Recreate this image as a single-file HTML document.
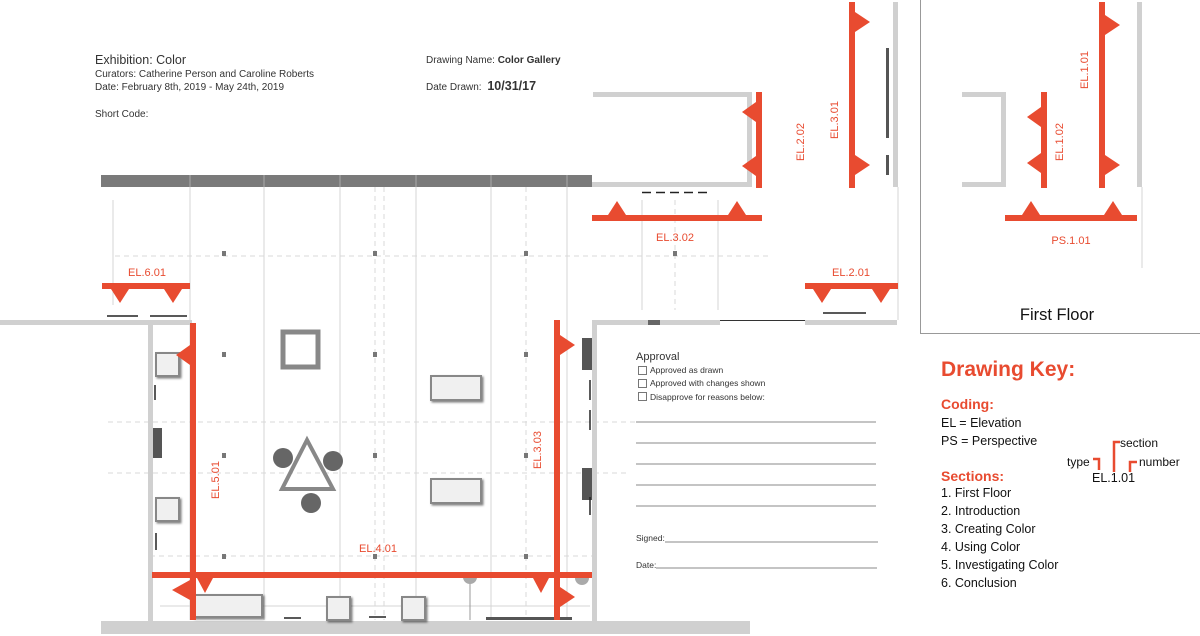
<!DOCTYPE html>
<html><head><meta charset="utf-8"><style>
html,body{margin:0;padding:0;background:#fff;}
svg{display:block;font-family:"Liberation Sans",sans-serif;}
</style></head><body>
<svg width="1200" height="636" viewBox="0 0 1200 636" xmlns="http://www.w3.org/2000/svg">
<defs>
<filter id="sh" x="-20%" y="-20%" width="150%" height="150%"><feDropShadow dx="1.5" dy="1.5" stdDeviation="1" flood-color="#000" flood-opacity="0.5"/></filter>
</defs>
<g fill="#333">
<text x="95" y="64" font-size="12.5">Exhibition: Color</text>
<text x="95" y="77" font-size="10">Curators: Catherine Person and Caroline Roberts</text>
<text x="95" y="90" font-size="10">Date: February 8th, 2019 - May 24th, 2019</text>
<text x="95" y="117" font-size="10">Short Code:</text>
<text x="426" y="63" font-size="10">Drawing Name: <tspan font-weight="bold">Color Gallery</tspan></text>
<text x="426" y="90" font-size="10">Date Drawn: <tspan font-weight="bold" font-size="12.5" dx="3">10/31/17</tspan></text>
</g>
<g stroke="#d4d4d4" stroke-width="1">
<line x1="190" y1="187" x2="190" y2="620"/><line x1="264" y1="187" x2="264" y2="620"/>
<line x1="340" y1="187" x2="340" y2="620"/><line x1="416" y1="187" x2="416" y2="620"/>
<line x1="491" y1="187" x2="491" y2="620"/><line x1="567" y1="187" x2="567" y2="620"/>
<line x1="113" y1="200" x2="113" y2="305"/>
<line x1="642" y1="200" x2="642" y2="310"/><line x1="718" y1="200" x2="718" y2="310"/>
<line x1="160" y1="606" x2="590" y2="606"/>
<line x1="898" y1="187" x2="898" y2="320"/><line x1="1142" y1="187" x2="1142" y2="268"/>
</g>
<g stroke="#d8d8d8" stroke-width="1" stroke-dasharray="5,4">
<line x1="375" y1="187" x2="375" y2="620"/><line x1="384" y1="187" x2="384" y2="620"/>
<line x1="526" y1="187" x2="526" y2="620"/><line x1="675" y1="200" x2="675" y2="310"/>
<line x1="115" y1="256" x2="770" y2="256"/>
<line x1="108" y1="422" x2="700" y2="422"/>
<line x1="108" y1="473" x2="630" y2="473"/>
<line x1="150" y1="556" x2="595" y2="556"/>
</g>
<g fill="#777">
<rect x="222" y="251" width="4" height="5"/><rect x="373" y="251" width="4" height="5"/><rect x="524" y="251" width="4" height="5"/>
<rect x="673" y="251" width="4" height="5"/>
<rect x="222" y="352" width="4" height="5"/><rect x="373" y="352" width="4" height="5"/><rect x="524" y="352" width="4" height="5"/>
<rect x="222" y="453" width="4" height="5"/><rect x="373" y="453" width="4" height="5"/><rect x="524" y="453" width="4" height="5"/>
<rect x="222" y="554" width="4" height="5"/><rect x="373" y="554" width="4" height="5"/><rect x="524" y="554" width="4" height="5"/>
</g>
<rect x="101" y="175" width="491" height="12" fill="#7a7a7a"/>
<rect x="592" y="182" width="160" height="5" fill="#d0d0d0"/>
<g stroke="#aaa" stroke-width="1"><line x1="190" y1="175" x2="190" y2="187"/><line x1="264" y1="175" x2="264" y2="187"/><line x1="340" y1="175" x2="340" y2="187"/><line x1="416" y1="175" x2="416" y2="187"/><line x1="491" y1="175" x2="491" y2="187"/><line x1="567" y1="175" x2="567" y2="187"/></g>
<g fill="#d0d0d0">
<rect x="0" y="320" width="192" height="5"/><rect x="148" y="320" width="5" height="302"/>
<rect x="592" y="320" width="5" height="302"/><rect x="592" y="320" width="128" height="5"/>
<rect x="805" y="320" width="92" height="5"/>
<rect x="101" y="621" width="649" height="13"/>
<rect x="593" y="92" width="159" height="5"/><rect x="747" y="92" width="5" height="95"/>
<rect x="893" y="2" width="5" height="185"/>
<rect x="962" y="92" width="44" height="5"/><rect x="1001" y="92" width="5" height="95"/><rect x="962" y="182" width="44" height="5"/>
<rect x="1137" y="2" width="5" height="185"/>
</g>
<rect x="648" y="320" width="12" height="5" fill="#666"/>
<line x1="720" y1="320.5" x2="805" y2="320.5" stroke="#333" stroke-width="1"/>
<rect x="920" y="0" width="1" height="333" fill="#999"/><rect x="920" y="333" width="280" height="1" fill="#999"/>
<g fill="#555">
<rect x="886" y="48" width="3" height="90"/><rect x="886" y="155" width="3" height="20"/>
<rect x="153" y="428" width="9" height="30"/><rect x="582" y="338" width="10" height="32"/><rect x="582" y="468" width="10" height="32"/>
</g>
<g stroke="#222" stroke-width="1.5">
<line x1="107" y1="316" x2="138" y2="316"/><line x1="150" y1="316" x2="187" y2="316"/>
<line x1="823" y1="313" x2="866" y2="313"/>
<line x1="642" y1="192.5" x2="712" y2="192.5" stroke-dasharray="9,5"/>
<line x1="155" y1="385" x2="155" y2="400"/><line x1="156" y1="533" x2="156" y2="550"/>
<line x1="590" y1="380" x2="590" y2="400"/><line x1="590" y1="410" x2="590" y2="430"/><line x1="590" y1="497" x2="590" y2="515"/>
<line x1="284" y1="618" x2="301" y2="618"/><line x1="369" y1="617" x2="386" y2="617"/>
</g>
<rect x="486" y="617" width="86" height="3" fill="#555"/>
<line x1="470" y1="577" x2="470" y2="620" stroke="#999"/>
<rect x="283" y="332" width="35" height="35" fill="none" stroke="#888" stroke-width="5"/>
<g fill="#f0f0f0" stroke="#888" stroke-width="2" filter="url(#sh)">
<rect x="431" y="376" width="50" height="24"/><rect x="431" y="479" width="50" height="24"/>
<rect x="156" y="353" width="23" height="23"/><rect x="156" y="498" width="23" height="23"/>
<rect x="194" y="595" width="68" height="22"/><rect x="327" y="597" width="23" height="23"/><rect x="402" y="597" width="23" height="23"/>
</g>
<polygon points="307,440 282,489 333,489" fill="none" stroke="#888" stroke-width="4"/>
<g fill="#666"><circle cx="283" cy="458" r="10"/><circle cx="333" cy="461" r="10"/><circle cx="311" cy="503" r="10"/></g>
<g fill="#aaa"><path d="M463,577 a7,7 0 0 0 14,0z"/><path d="M575,578 a7,7 0 0 0 14,0z"/></g>
<g fill="#e84b30">
<rect x="190" y="323" width="6" height="297"/>
<polygon points="190,345 176,355 190,365"/><polygon points="190,580 172,590 190,600"/>
<rect x="152" y="572" width="440" height="6"/>
<polygon points="197,578 213,578 205,593"/><polygon points="533,578 549,578 541,593"/>
<rect x="554" y="320" width="6" height="300"/>
<polygon points="560,335 575,345 560,355"/><polygon points="560,587 575,597 560,607"/>
<rect x="102" y="283" width="88" height="6"/>
<polygon points="111,289 129,289 120,303"/><polygon points="164,289 182,289 173,303"/>
<rect x="805" y="283" width="93" height="6"/>
<polygon points="813,289 831,289 822,303"/><polygon points="872,289 890,289 881,303"/>
<rect x="592" y="215" width="170" height="6"/>
<polygon points="608,215 626,215 617,201"/><polygon points="728,215 746,215 737,201"/>
<rect x="756" y="92" width="6" height="96"/>
<polygon points="756,102 742,112 756,122"/><polygon points="756,156 742,166 756,176"/>
<rect x="849" y="2" width="6" height="186"/>
<polygon points="855,12 870,22 855,32"/><polygon points="855,155 870,165 855,175"/>
<rect x="1005" y="215" width="132" height="6"/>
<polygon points="1022,215 1040,215 1031,201"/><polygon points="1104,215 1122,215 1113,201"/>
<rect x="1041" y="92" width="6" height="96"/>
<polygon points="1041,107 1027,117 1041,127"/><polygon points="1041,153 1027,163 1041,173"/>
<rect x="1099" y="2" width="6" height="186"/>
<polygon points="1105,15 1120,25 1105,35"/><polygon points="1105,155 1120,165 1105,175"/>
</g>
<g fill="#e84b30" font-size="11" text-anchor="middle">
<text x="147" y="276">EL.6.01</text><text x="378" y="552">EL.4.01</text>
<text x="675" y="241">EL.3.02</text><text x="851" y="276">EL.2.01</text><text x="1071" y="244">PS.1.01</text>
<text transform="translate(219,480) rotate(-90)">EL.5.01</text>
<text transform="translate(541,450) rotate(-90)">EL.3.03</text>
<text transform="translate(804,142) rotate(-90)">EL.2.02</text>
<text transform="translate(838,120) rotate(-90)">EL.3.01</text>
<text transform="translate(1063,142) rotate(-90)">EL.1.02</text>
<text transform="translate(1088,70) rotate(-90)">EL.1.01</text>
</g>
<text x="1057" y="320" font-size="16.5" fill="#111" text-anchor="middle">First Floor</text>
<g fill="#333">
<text x="636" y="360" font-size="11">Approval</text>
<g font-size="8.5"><text x="650" y="373">Approved as drawn</text><text x="650" y="386">Approved with changes shown</text><text x="650" y="400">Disapprove for reasons below:</text>
<text x="636" y="541">Signed:</text><text x="636" y="568">Date:</text></g>
</g>
<g fill="none" stroke="#555" stroke-width="0.8"><rect x="638.5" y="366.5" width="8" height="8"/><rect x="638.5" y="379.5" width="8" height="8"/><rect x="638.5" y="392.5" width="8" height="8"/></g>
<g stroke="#888" stroke-width="1">
<line x1="636" y1="422" x2="876" y2="422"/><line x1="636" y1="443" x2="876" y2="443"/><line x1="636" y1="464" x2="876" y2="464"/><line x1="636" y1="485" x2="876" y2="485"/><line x1="636" y1="506" x2="876" y2="506"/>
<line x1="665" y1="542" x2="878" y2="542"/><line x1="656" y1="568" x2="877" y2="568"/>
</g>
<text x="941" y="376" font-size="21" font-weight="bold" fill="#e84b30">Drawing Key:</text>
<text x="941" y="409" font-size="14" font-weight="bold" fill="#e84b30">Coding:</text>
<text x="941" y="481" font-size="14" font-weight="bold" fill="#e84b30">Sections:</text>
<g font-size="12.5" fill="#111">
<text x="941" y="427">EL = Elevation</text><text x="941" y="445">PS = Perspective</text>
<text x="941" y="497">1. First Floor</text><text x="941" y="515">2. Introduction</text><text x="941" y="533">3. Creating Color</text>
<text x="941" y="551">4. Using Color</text><text x="941" y="569">5. Investigating Color</text><text x="941" y="587">6.  Conclusion</text>
<text x="1092" y="482">EL.1.01</text>
</g>
<g font-size="12" fill="#111"><text x="1120" y="447">section</text><text x="1067" y="466">type</text><text x="1139" y="466">number</text></g>
<g fill="none" stroke="#e84b30" stroke-width="2.5">
<path d="M1093,459 H1099 V470"/><path d="M1120,442 H1114 V472"/><path d="M1137,462 H1130 V472"/>
</g>
</svg>
</body></html>
